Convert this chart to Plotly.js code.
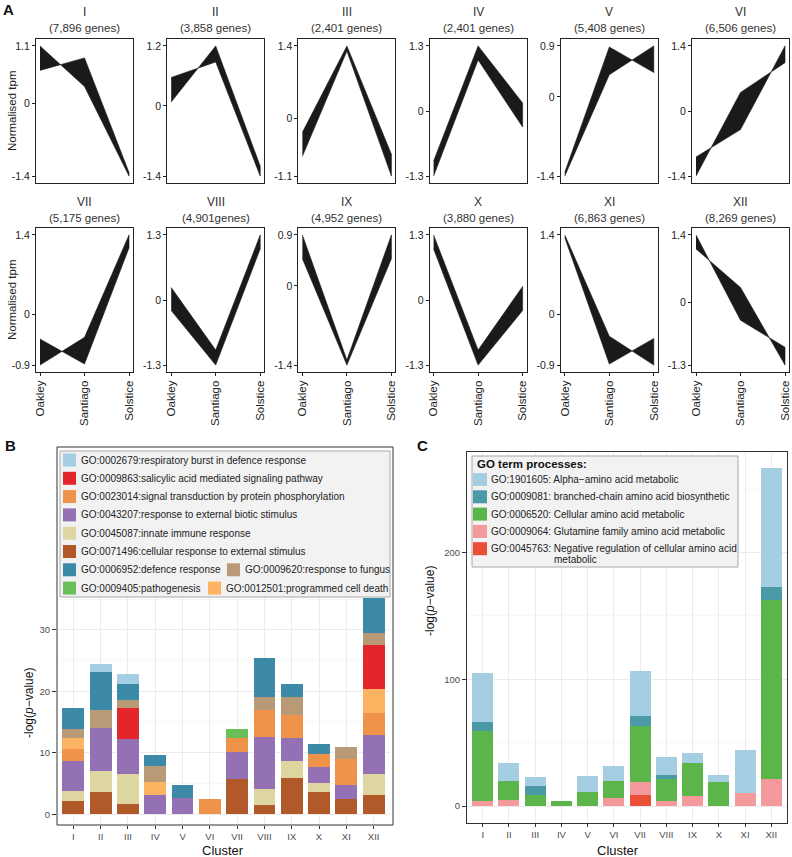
<!DOCTYPE html>
<html><head><meta charset="utf-8">
<script src="https://cdn.plot.ly/plotly-3.0.1.min.js"></script>
<style>html,body{margin:0;padding:0;background:#fff}</style>
</head><body><div id="chart" style="width:792px;height:857px"></div>
<script>
// ---------------- DATA ----------------
// Panel A: expression profile ribbons (two edges per cluster, at Oakley / Santiago / Solstice)
const clusters = ['I','II','III','IV','V','VI','VII','VIII','IX','X','XI','XII'];
const geneCounts = ['(7,896 genes)','(3,858 genes)','(2,401 genes)','(2,401 genes)','(5,408 genes)','(6,506 genes)',
                    '(5,175 genes)','(4,901genes)','(4,952 genes)','(3,880 genes)','(6,863 genes)','(8,269 genes)'];
const conditions = ['Oakley','Santiago','Solstice'];
const edgeA = [[1.1,0.32,-1.4],[0.57,0.88,-1.4],[-0.26,1.4,-0.68],[-1.0,1.3,0.16],[-1.33,0.88,0.43],[-0.99,-0.4,1.4],
               [-0.44,-0.88,1.17],[0.25,-1.0,1.3],[0.9,-1.31,0.9],[1.3,-1.0,0.27],[1.4,-0.39,-0.9],[1.4,-0.37,-0.93]];
const edgeB = [[0.63,0.87,-1.33],[0.08,1.2,-1.2],[-0.72,1.3,-1.1],[-1.3,1.02,-0.32],[-1.4,0.39,0.9],[-1.4,0.4,1.04],
               [-0.9,-0.41,1.4],[-0.21,-1.3,1.02],[0.48,-1.4,0.48],[1.02,-1.3,-0.21],[1.35,-0.88,-0.43],[1.11,0.31,-1.3]];
const yTopLabels    = ['1.1','1.2','1.4','1.3','0.9','1.4','1.4','1.3','0.9','1.3','1.4','1.4'];
const yBottomLabels = ['-1.4','-1.4','-1.1','-1.3','-1.4','-1.4','-0.9','-1.3','-1.4','-1.3','-0.9','-1.3'];

// Panel B: stacked -log(p) per GO term (stack order bottom -> top)
const termsB = ['GO:0071496:cellular response to external stimulus','GO:0045087:innate immune response',
  'GO:0043207:response to external biotic stimulus','GO:0023014:signal transduction by protein phosphorylation',
  'GO:0012501:programmed cell death','GO:0009863:salicylic acid mediated signaling pathway',
  'GO:0009620:response to fungus','GO:0009405:pathogenesis','GO:0006952:defence response',
  'GO:0002679:respiratory burst in defence response'];
const b_GO0071496 = [2.2,3.6,1.7,0,0,0,5.7,1.5,5.9,3.6,2.5,3.1];
const b_GO0045087 = [1.6,3.4,4.8,0,0,0,0,2.6,2.7,1.5,0,3.4];
const b_GO0043207 = [4.8,7.0,5.8,3.2,2.6,0,4.4,8.5,3.8,2.6,2.3,6.4];
const b_GO0023014 = [2.0,0,0,0,0,2.4,2.3,4.3,3.8,2.1,4.2,3.5];
const b_GO0012501 = [1.8,0,0,2.1,0,0,0,0,0,0,0,3.9];
const b_GO0009863 = [0,0,4.9,0,0,0,0,0,0,0,0,7.3];
const b_GO0009620 = [1.4,2.9,1.3,2.6,0,0,0,2.2,2.8,0,2.0,1.8];
const b_GO0009405 = [0,0,0,0,0,0,1.5,0,0,0,0,0];
const b_GO0006952 = [3.4,6.2,2.6,1.7,2.1,0,0,6.3,2.1,1.6,0,5.8];
const b_GO0002679 = [0,1.4,1.7,0,0,0,0,0,0,0,0,0];
const colorsB = ['#B15928','#DED6A0','#9470B4','#EF934A','#FDB462','#E3262A','#B99A77','#6BBF58','#3C89A8','#A6CEE3'];

// Panel C: stacked -log(p) per GO term (stack order bottom -> top)
const termsC = ['GO:0045763: Negative regulation of cellular amino acid metabolic','GO:0009064: Glutamine family amino acid metabolic',
  'GO:0006520: Cellular amino acid metabolic','GO:0009081: branched-chain amino acid biosynthetic','GO:1901605: Alpha\u2212amino acid metabolic'];
const c_GO0045763 = [0,0,0,0,0,0,8.6,0,0,0,0,0];
const c_GO0009064 = [3.9,4.5,0,0,0,6.5,10.8,3.7,7.9,0,10.7,21.2];
const c_GO0006520 = [55,15.7,8.9,3.7,11.5,13.7,44.2,17.7,26.4,18.9,0,141.4];
const c_GO0009081 = [7.3,0,6.8,0,0,0,7.6,3.5,0,0,0,10.5];
const c_GO1901605 = [38.5,14.1,7.1,0,12.1,11.5,35.1,13.6,7.9,6.0,33.5,93.4];
const colorsC = ['#EA4E37','#F49A9C','#5BB54B','#4B9AA8','#A6CEE3'];

// ---------------- FIGURE ----------------
const W = 792, H = 857;
const FONT = '"Liberation Sans", Arial, Helvetica, sans-serif';
const px = x => x / W, py = y => 1 - y / H;
const traces = [];
const layout = {
  width: W, height: H, margin: {l:0, r:0, t:0, b:0},
  paper_bgcolor: '#ffffff', plot_bgcolor: '#ffffff',
  showlegend: false, barmode: 'stack', bargap: 0.2,
  font: {family: FONT, color: '#222'},
  shapes: [], annotations: []
};
function ann(x, y, text, o) {
  layout.annotations.push(Object.assign({xref:'paper', yref:'paper', x:px(x), y:py(y), text:text,
    showarrow:false, xanchor:'center', yanchor:'middle', font:{family:FONT, size:12, color:'#222'}}, o || {}));
}
function rect(x0, y0, x1, y1, fill, line, lw) {
  layout.shapes.push({type:'rect', xref:'paper', yref:'paper', x0:px(x0), x1:px(x1), y0:py(y1), y1:py(y0),
    fillcolor: fill, line:{color: line || 'rgba(0,0,0,0)', width: lw === undefined ? 0 : lw}, layer:'above'});
}

// ---- Panel A ----
const boxL = [36,167.2,298.4,429.6,560.8,692], boxW = 97, boxT = [39,228], boxH = 144;
clusters.forEach((cl, i) => {
  const r = i < 6 ? 0 : 1, c = i % 6, k = i + 1;
  const sx = k === 1 ? '' : String(k);
  const top = parseFloat(yTopLabels[i]), bot = parseFloat(yBottomLabels[i]);
  const pad = (top - bot) * 0.053;
  traces.push({
    type:'scatter', mode:'lines', xaxis:'x'+sx, yaxis:'y'+sx,
    x: conditions.concat(conditions.slice().reverse()),
    y: edgeA[i].concat(edgeB[i].slice().reverse()),
    fill:'toself', fillcolor:'#1a1a1a', line:{color:'#1a1a1a', width:0.6}, hoverinfo:'skip'
  });
  layout['xaxis'+sx] = {
    domain:[px(boxL[c]), px(boxL[c]+boxW)], anchor:'y'+sx, type:'category', categoryarray:conditions,
    range:[-0.09, 2.09], showline:true, mirror:true, linecolor:'#222', linewidth:1,
    showgrid:false, zeroline:false, ticks: r ? 'outside' : '', ticklen:3, tickcolor:'#222',
    showticklabels: r === 1, tickangle:-90, tickfont:{family:FONT, size:11.5, color:'#222'}
  };
  layout['yaxis'+sx] = {
    domain:[py(boxT[r]+boxH), py(boxT[r])], anchor:'x'+sx, range:[bot-pad, top+pad],
    tickmode:'array', tickvals:[bot, 0, top], ticktext:[yBottomLabels[i], '0', yTopLabels[i]],
    ticks:'outside', ticklen:3, tickcolor:'#222', showline:true, mirror:true, linecolor:'#222', linewidth:1,
    showgrid:false, zeroline:false, tickfont:{family:FONT, size:10.5, color:'#222'}
  };
  const cx = boxL[c] + boxW/2;
  ann(cx, r ? 202 : 12, cl, {font:{family:FONT, size:12, color:'#333'}});
  ann(cx, r ? 218 : 28, geneCounts[i], {font:{family:FONT, size:11.5, color:'#333'}});
});
ann(12, 111, 'Normalised tpm', {textangle:-90, font:{family:FONT, size:11.5, color:'#222'}});
ann(12, 300, 'Normalised tpm', {textangle:-90, font:{family:FONT, size:11.5, color:'#222'}});

// ---- Panel B ----
const seriesB = [b_GO0071496,b_GO0045087,b_GO0043207,b_GO0023014,b_GO0012501,b_GO0009863,b_GO0009620,b_GO0009405,b_GO0006952,b_GO0002679];
seriesB.forEach((vals, j) => traces.push({type:'bar', x:clusters, y:vals, name:termsB[j], xaxis:'x13', yaxis:'y13',
  marker:{color:colorsB[j], line:{width:0}}, hoverinfo:'skip'}));
layout.xaxis13 = {domain:[px(57), px(390)], anchor:'y13', type:'category', categoryarray:clusters, range:[-0.6, 11.6],
  showgrid:true, gridcolor:'#EBEBEB', gridwidth:1, zeroline:false, showline:false, ticks:'outside', ticklen:3,
  tickcolor:'#333', tickfont:{family:FONT, size:9.5, color:'#4D4D4D'}};
layout.yaxis13 = {domain:[py(825), py(587)], anchor:'x13', range:[-1.76, 36.96], tickmode:'linear', tick0:0, dtick:10,
  showgrid:true, gridcolor:'#EBEBEB', gridwidth:1, zeroline:false, showline:false, ticks:'outside', ticklen:4,
  tickcolor:'#333', tickfont:{family:FONT, size:9.5, color:'#4D4D4D'},
  minor:{dtick:5, tick0:0, showgrid:true, gridcolor:'#F4F4F4', gridwidth:0.6, ticks:''}};
rect(57, 447, 393, 825, 'rgba(0,0,0,0)', '#333', 1);
ann(29, 703, '-log(<i>p</i>\u2212value)', {textangle:-90, font:{family:FONT, size:12, color:'#111'}});
ann(223, 850, 'Cluster', {font:{family:FONT, size:13, color:'#111'}, borderpad:0});
// legend B (manual layout: order as shown in the reference)
rect(60, 451, 390, 597, '#F2F2F2', '#A8A8A8', 1);
const legendB = [ // [series index, row, swatch x]
  [9,0,63],[5,1,63],[3,2,63],[2,3,63],[1,4,63],[0,5,63],[8,6,63],[6,6,227],[7,7,63],[4,7,208]];
legendB.forEach(([j, row, sx]) => {
  const yc = 460 + row * 18.3;
  rect(sx, yc - 6.5, sx + 13, yc + 6.5, colorsB[j]);
  ann(sx + 16, yc, termsB[j], {xanchor:'left', font:{family:FONT, size:10, color:'#222'}});
});

// ---- Panel C ----
const seriesC = [c_GO0045763,c_GO0009064,c_GO0006520,c_GO0009081,c_GO1901605];
seriesC.forEach((vals, j) => traces.push({type:'bar', x:clusters, y:vals, name:termsC[j], xaxis:'x14', yaxis:'y14',
  marker:{color:colorsC[j], line:{width:0}}, hoverinfo:'skip'}));
layout.xaxis14 = {domain:[px(467), px(787)], anchor:'y14', type:'category', categoryarray:clusters, range:[-0.6, 11.6],
  showgrid:true, gridcolor:'#EBEBEB', gridwidth:1, zeroline:false, showline:true, mirror:true, linecolor:'#333', linewidth:1,
  ticks:'outside', ticklen:3, tickcolor:'#333', tickfont:{family:FONT, size:9.5, color:'#4D4D4D'}};
layout.yaxis14 = {domain:[py(823), py(452)], anchor:'x14', range:[-13.3, 279.3], tickmode:'linear', tick0:0, dtick:100,
  showgrid:true, gridcolor:'#EBEBEB', gridwidth:1, zeroline:false, showline:true, mirror:true, linecolor:'#333', linewidth:1,
  ticks:'outside', ticklen:4, tickcolor:'#333', tickfont:{family:FONT, size:9.5, color:'#4D4D4D'},
  minor:{dtick:50, tick0:0, showgrid:true, gridcolor:'#F4F4F4', gridwidth:0.6, ticks:''}};
ann(430, 601, '-log(<i>p</i>\u2212value)', {textangle:-90, font:{family:FONT, size:12, color:'#111'}});
ann(618, 850, 'Cluster', {font:{family:FONT, size:13, color:'#111'}, borderpad:0});
// legend C
rect(472, 456, 738, 567, '#F2F2F2', '#A8A8A8', 1);
ann(475, 464, '<b>GO term processes:</b>', {xanchor:'left', font:{family:FONT, size:11.5, color:'#111'}});
[4,3,2,1,0].forEach((j, row) => {
  const yc = 479.5 + row * 17.3;
  rect(473, yc - 6.5, 487, yc + 6.5, colorsC[j]);
  let label = termsC[j];
  if (j === 0) {
    const cut = label.indexOf(' metabolic');
    ann(489, yc, label.slice(0, cut), {xanchor:'left', font:{family:FONT, size:10, color:'#222'}});
    ann(552, yc + 11, label.slice(cut + 1), {xanchor:'left', font:{family:FONT, size:10, color:'#222'}});
  } else {
    ann(489, yc, label, {xanchor:'left', font:{family:FONT, size:10, color:'#222'}});
  }
});

// panel letters
ann(8, 9, '<b>A</b>', {font:{family:FONT, size:15, color:'#111'}});
ann(10, 446, '<b>B</b>', {font:{family:FONT, size:15, color:'#111'}});
ann(422, 445, '<b>C</b>', {font:{family:FONT, size:15, color:'#111'}});

Plotly.newPlot('chart', traces, layout, {staticPlot:true, displayModeBar:false});
</script>
</body></html>
